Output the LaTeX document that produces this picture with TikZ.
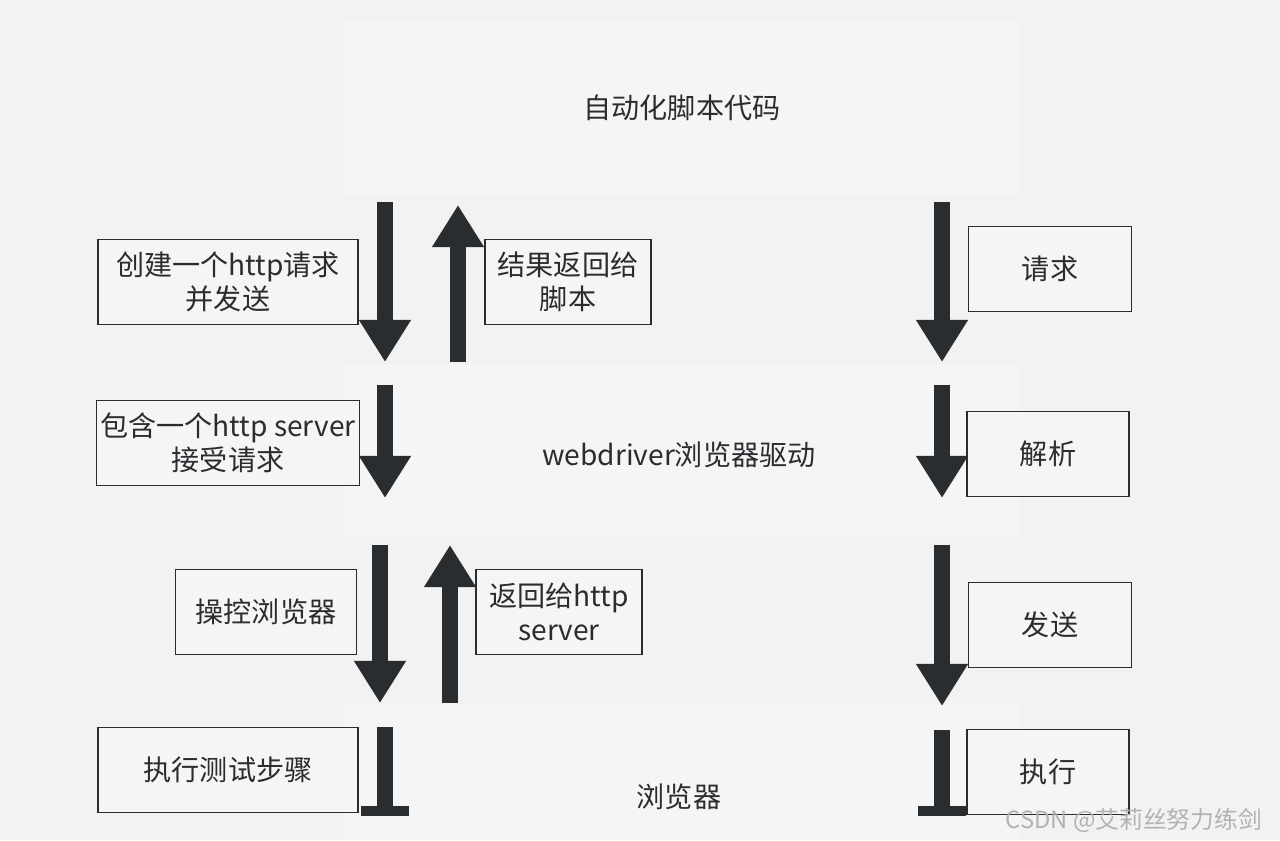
\documentclass[tikz,border=0pt]{standalone}
\usepackage{fontspec}
\setmainfont{Noto Sans CJK SC}
\usepackage{tikz}
\usepackage{xcolor}
\usetikzlibrary{
    arrows.meta,
    positioning,
    calc
}
\definecolor{bgGray}{RGB}{242,242,243}
\definecolor{layerGray}{RGB}{245,245,246}
\definecolor{inkDark}{RGB}{42,45,48}
\definecolor{wmGray}{RGB}{178,178,180}
\tikzset{
  layer/.style   = {fill=layerGray, minimum width=13.5cm, inner sep=0pt,
                    font=\fontsize{16}{20}\selectfont, text=inkDark},
  block/.style   = {draw=inkDark, line width=0.7pt, fill=layerGray,
                    minimum width=5.2cm, minimum height=1.7cm, align=center,
                    font=\fontsize{16}{19.5}\selectfont, text=inkDark, inner sep=2pt},
  sblock/.style  = {block, minimum width=3.3cm},
  fat/.style     = {draw=inkDark, line width=9.6pt,
                    -{Triangle[width=28pt,length=24pt]}},
  tee/.style     = {draw=inkDark, line width=9.6pt,
                    -{Bar[width=27pt,line width=5.6pt]}}
}

\begin{document}
\begin{tikzpicture}[x=0.02cm, y=-0.02cm]
  \fill[bgGray] (0,0) rectangle (1280,840);
  \useasboundingbox (0,0) rectangle (1280,840);

  % three layers
  \node[layer, minimum height=3.46cm] (code) at (682,108) {自动化脚本代码};
  \node[layer, minimum height=3.4cm]  (driver) at (682,450) {};
  \node[text=inkDark, font=\fontsize{16}{20}\selectfont] (drvtxt) at (679,455)
       {webdriver浏览器驱动};
  \node[layer, minimum height=2.7cm]  (browser) at (682,772) {};
  \node[text=inkDark, font=\fontsize{16}{20}\selectfont] (brtxt) at (679,797)
       {浏览器};

  % left column
  \node[block] (create) at (228,282) {创建一个http请求\\并发送};
  \node[block] (server) at (228,443) {包含一个http server\\接受请求};
  \node[sblock, minimum width=3.62cm] (ctrl) at (266,612) {操控浏览器};
  \node[block] (steps) at (228,770) {执行测试步骤};

  % middle column
  \node[sblock, minimum width=3.32cm] (result) at (568,282) {结果返回给\\脚本};
  \node[sblock, minimum width=3.32cm] (back) at (559,612) {返回给http\\server};

  % right column
  \node[sblock, minimum width=3.26cm] (req) at (1050,269) {请求};
  \node[sblock, minimum width=3.24cm] (parse) at (1048,454) {解析};
  \node[sblock, minimum width=3.26cm] (send) at (1050,625) {发送};
  \node[sblock, minimum width=3.24cm] (exec) at (1048,772) {执行};

  % arrow ends
  \coordinate (a1s) at (385,202); \coordinate (a1e) at (385,362);
  \coordinate (a2s) at (458,362); \coordinate (a2e) at (458,205);
  \coordinate (a3s) at (942,202); \coordinate (a3e) at (942,362);
  \coordinate (a4s) at (385,385); \coordinate (a4e) at (385,498);
  \coordinate (a5s) at (942,385); \coordinate (a5e) at (942,498);
  \coordinate (a6s) at (380,545); \coordinate (a6e) at (380,703);
  \coordinate (a7s) at (450,703); \coordinate (a7e) at (450,545);
  \coordinate (a8s) at (942,545); \coordinate (a8e) at (942,706);
  \coordinate (t1s) at (385,727); \coordinate (t1e) at (385,816);
  \coordinate (t2s) at (942,730); \coordinate (t2e) at (942,816);

  \draw[fat] (a1s) -- (a1e);
  \draw[fat] (a2s) -- (a2e);
  \draw[fat] (a3s) -- (a3e);
  \draw[fat] (a4s) -- (a4e);
  \draw[fat] (a5s) -- (a5e);
  \draw[fat] (a6s) -- (a6e);
  \draw[fat] (a7s) -- (a7e);
  \draw[fat] (a8s) -- (a8e);
  \draw[tee] (t1s) -- (t1e);
  \draw[tee] (t2s) -- (t2e);

  \node[text=wmGray, font=\fontsize{13.5}{16}\selectfont, anchor=east] (mark)
       at (1268,820) {CSDN @艾莉丝努力练剑};
\end{tikzpicture}
\end{document}
